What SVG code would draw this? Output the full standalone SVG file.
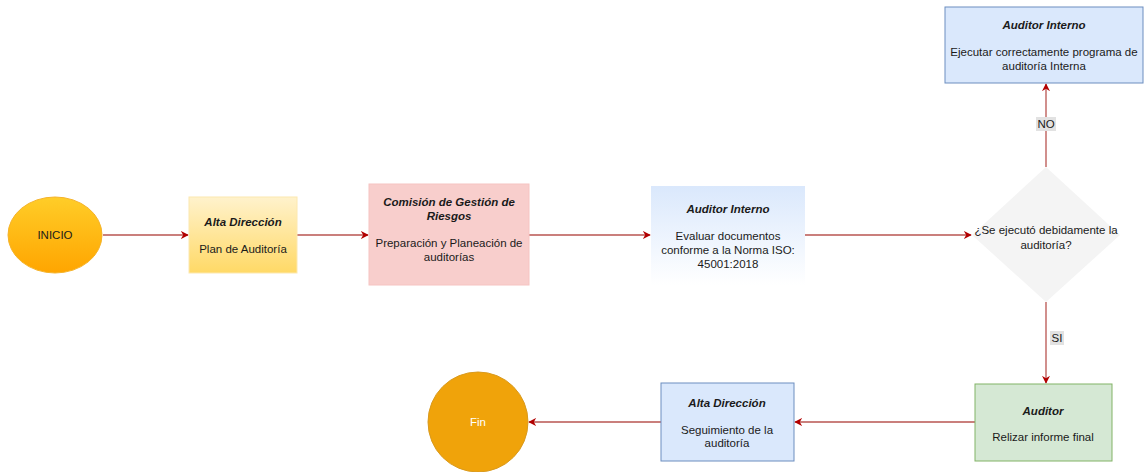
<svg xmlns="http://www.w3.org/2000/svg" width="1146" height="472" viewBox="0 0 1146 472">
  <style>
    text { font-family: "Liberation Sans", Arial, sans-serif; font-size: 11.5px; fill: #1a1a1a; text-anchor: middle; }
    .title { font-weight: bold; font-style: italic; }
    .edge { fill: none; stroke: #b85450; stroke-width: 1.3; }
    .lbl { fill: #e2e2e2; }
  </style>
  <defs>
    <linearGradient id="gInicio" x1="0" y1="0" x2="0" y2="1">
      <stop offset="0" stop-color="#ffcd28"/>
      <stop offset="1" stop-color="#ffa500"/>
    </linearGradient>
    <linearGradient id="gYellow" x1="0" y1="0" x2="0" y2="1">
      <stop offset="0" stop-color="#fff2cc"/>
      <stop offset="1" stop-color="#ffd966"/>
    </linearGradient>
    <linearGradient id="gBlue" x1="0" y1="0" x2="0" y2="1">
      <stop offset="0" stop-color="#dae8fc"/>
      <stop offset="1" stop-color="#ffffff"/>
    </linearGradient>
    <marker id="arrow" viewBox="0 0 10 10" refX="9" refY="5" markerWidth="8" markerHeight="8" markerUnits="userSpaceOnUse" orient="auto">
      <path d="M0,0 L10,5 L0,10 L3,5 Z" fill="#b20000"/>
    </marker>
  </defs>

  <!-- connectors -->
  <g id="edges">
    <path class="edge" d="M103,235 H188" marker-end="url(#arrow)"/>
    <path class="edge" d="M297,235 H368" marker-end="url(#arrow)"/>
    <path class="edge" d="M529,235 H650" marker-end="url(#arrow)"/>
    <path class="edge" d="M805,235 H971" marker-end="url(#arrow)"/>
    <path class="edge" d="M1046,167 V84" marker-end="url(#arrow)"/>
    <path class="edge" d="M1046,302 V383" marker-end="url(#arrow)"/>
    <path class="edge" d="M975,422 H795" marker-end="url(#arrow)"/>
    <path class="edge" d="M661,422 H529" marker-end="url(#arrow)"/>
    <rect class="lbl" x="1036" y="117" width="20" height="14"/>
    <text x="1046" y="128">NO</text>
    <rect class="lbl" x="1050" y="331" width="14" height="14"/>
    <text x="1057" y="342">SI</text>
  </g>

  <g id="inicio">
    <ellipse cx="55" cy="235" rx="47" ry="38" fill="url(#gInicio)" stroke="#f5b32a" stroke-width="1"/>
    <text x="55" y="239">INICIO</text>
  </g>

  <g id="plan">
    <rect x="189" y="197" width="108" height="76" fill="url(#gYellow)" stroke="#fce8b0" stroke-width="1"/>
    <text class="title" x="243" y="226">Alta Dirección</text>
    <text x="243" y="253">Plan de Auditoría</text>
  </g>

  <g id="comision">
    <rect x="369" y="184" width="160" height="101" fill="#f8cecc" stroke="#f6c4c2" stroke-width="1"/>
    <text class="title" x="449" y="206">Comisión de Gestión de</text>
    <text class="title" x="449" y="220">Riesgos</text>
    <text x="449" y="247">Preparación y Planeación de</text>
    <text x="449" y="261">auditorías</text>
  </g>

  <g id="evaluar">
    <rect x="651" y="186" width="154" height="99" fill="url(#gBlue)"/>
    <text class="title" x="728" y="213">Auditor Interno</text>
    <text x="728" y="240">Evaluar documentos</text>
    <text x="728" y="254">conforme a la Norma ISO:</text>
    <text x="728" y="268">45001:2018</text>
  </g>

  <g id="decision">
    <polygon points="1046,167 1120,235 1046,302 972,235" fill="#f4f4f4"/>
    <text x="1046" y="234">¿Se ejecutó debidamente la</text>
    <text x="1046" y="249">auditoría?</text>
  </g>

  <g id="ejecutar">
    <rect x="945" y="7" width="198" height="76" fill="#dae8fc" stroke="#6c8ebf" stroke-width="1"/>
    <text class="title" x="1044" y="29">Auditor Interno</text>
    <text x="1044" y="56">Ejecutar correctamente programa de</text>
    <text x="1044" y="70">auditoría Interna</text>
  </g>

  <g id="informe">
    <rect x="975" y="384" width="137" height="77" fill="#d5e8d4" stroke="#82b366" stroke-width="1"/>
    <text class="title" x="1043" y="415">Auditor</text>
    <text x="1043" y="441">Relizar informe final</text>
  </g>

  <g id="seguimiento">
    <rect x="661" y="383" width="133" height="78" fill="#dae8fc" stroke="#6c8ebf" stroke-width="1"/>
    <text class="title" x="727" y="407">Alta Dirección</text>
    <text x="727" y="434">Seguimiento de la</text>
    <text x="727" y="447">auditoría</text>
  </g>

  <g id="fin">
    <circle cx="478" cy="422" r="50" fill="#f0a30a" stroke="#d99a1f" stroke-width="1"/>
    <text x="478" y="426" style="fill:#ffffff">Fin</text>
  </g>
</svg>
